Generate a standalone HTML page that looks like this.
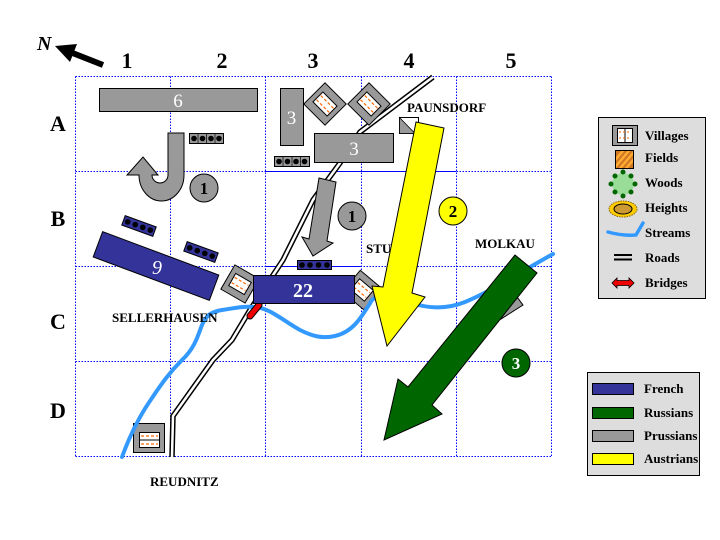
<!DOCTYPE html>
<html><head><meta charset="utf-8"><style>
html,body{margin:0;padding:0;background:#fff;}
svg{display:block;}
text{font-family:"Liberation Serif",serif;}
</style></head><body>
<svg width="720" height="540" viewBox="0 0 720 540" xmlns="http://www.w3.org/2000/svg">
<defs>
<clipPath id="fc"><rect x="615" y="150" width="18" height="18"/></clipPath>
</defs>
<rect width="720" height="540" fill="#fff"/>

<!-- grid -->
<g stroke="#0000ff" stroke-width="1" stroke-dasharray="1.5,1.5" fill="none">
<line x1="75.5" y1="76.5" x2="75.5" y2="457"/>
<line x1="170.5" y1="76.5" x2="170.5" y2="457"/>
<line x1="265.5" y1="76.5" x2="265.5" y2="457"/>
<line x1="361.5" y1="76.5" x2="361.5" y2="457"/>
<line x1="456.5" y1="76.5" x2="456.5" y2="457"/>
<line x1="551.5" y1="76.5" x2="551.5" y2="457"/>
<line x1="75.5" y1="76.5" x2="552" y2="76.5"/>
<line x1="75.5" y1="171.5" x2="552" y2="171.5"/>
<line x1="75.5" y1="266.5" x2="552" y2="266.5"/>
<line x1="75.5" y1="361.5" x2="552" y2="361.5"/>
<line x1="75.5" y1="456.5" x2="552" y2="456.5"/>
</g>
<g stroke="#0000ff" stroke-width="1">
<line x1="265" y1="171.5" x2="456" y2="171.5"/>
<line x1="265" y1="266.5" x2="361" y2="266.5"/>
</g>

<!-- labels -->
<g font-size="22" font-weight="bold" text-anchor="middle" fill="#000">
<text x="127" y="68">1</text>
<text x="222" y="68">2</text>
<text x="313" y="68">3</text>
<text x="409" y="68">4</text>
<text x="511" y="68">5</text>
<text x="58" y="131">A</text>
<text x="58" y="226">B</text>
<text x="58" y="329">C</text>
<text x="58" y="418">D</text>
</g>

<!-- North arrow -->
<text x="37" y="50" font-size="20" font-weight="bold" font-style="italic">N</text>
<line x1="70" y1="52" x2="103" y2="65" stroke="#000" stroke-width="6"/>
<polygon points="55,46 77,44 70,62" fill="#000"/>

<!-- road -->
<polyline points="433,77 360,132 340,163 313,200 283,260 250,310 232,340 213,360 173,416 172,457" fill="none" stroke="#000" stroke-width="5.5" stroke-linejoin="miter"/>
<polyline points="433,77 360,132 340,163 313,200 283,260 250,310 232,340 213,360 173,416 172,457" fill="none" stroke="#fff" stroke-width="2.5"/>

<!-- villages (diamonds) -->
<g transform="translate(325,104) rotate(45)">
<rect x="-15" y="-15" width="30" height="30" fill="#999" stroke="#000"/>
<rect x="-10" y="-7" width="20" height="14" fill="#fff" stroke="#000"/>
<line x1="-9" y1="-3" x2="9" y2="-3" stroke="#ff6600" stroke-width="1.2" stroke-dasharray="3,2"/>
<line x1="-9" y1="3" x2="9" y2="3" stroke="#ff6600" stroke-width="1.2" stroke-dasharray="3,2"/>
</g>
<g transform="translate(369,104) rotate(45)">
<rect x="-15" y="-15" width="30" height="30" fill="#999" stroke="#000"/>
<rect x="-10" y="-7" width="20" height="14" fill="#fff" stroke="#000"/>
<line x1="-9" y1="-3" x2="9" y2="-3" stroke="#ff6600" stroke-width="1.2" stroke-dasharray="3,2"/>
<line x1="-9" y1="3" x2="9" y2="3" stroke="#ff6600" stroke-width="1.2" stroke-dasharray="3,2"/>
</g>
<g transform="translate(240,284) rotate(30)">
<rect x="-14" y="-14" width="28" height="28" fill="#999" stroke="#000"/>
<rect x="-9" y="-7" width="18" height="14" fill="#fff" stroke="#000"/>
<line x1="-8" y1="-3" x2="8" y2="-3" stroke="#ff6600" stroke-width="1.2" stroke-dasharray="3,2"/>
<line x1="-8" y1="3" x2="8" y2="3" stroke="#ff6600" stroke-width="1.2" stroke-dasharray="3,2"/>
</g>
<g transform="translate(362,290) rotate(40)">
<rect x="-14" y="-14" width="28" height="28" fill="#999" stroke="#000"/>
<rect x="-9" y="-7" width="18" height="14" fill="#fff" stroke="#000"/>
<line x1="-8" y1="-3" x2="8" y2="-3" stroke="#ff6600" stroke-width="1.2" stroke-dasharray="3,2"/>
<line x1="-8" y1="3" x2="8" y2="3" stroke="#ff6600" stroke-width="1.2" stroke-dasharray="3,2"/>
</g>
<!-- Paunsdorf small village -->
<rect x="399.5" y="117.5" width="19" height="16" fill="#fff" stroke="#000"/>
<polygon points="399.5,117.5 399.5,133.5 415,133.5" fill="#999" stroke="#000" stroke-width="0.8"/>
<!-- Reudnitz village -->
<rect x="133.5" y="423.5" width="31" height="29" fill="#999" stroke="#000"/>
<rect x="139.5" y="432.5" width="20" height="15" fill="#fff" stroke="#000"/>
<line x1="139.5" y1="440" x2="159.5" y2="440" stroke="#000"/>
<line x1="141" y1="436" x2="158" y2="436" stroke="#ff6600" stroke-width="1.2" stroke-dasharray="3,2"/>
<line x1="141" y1="444" x2="158" y2="444" stroke="#ff6600" stroke-width="1.2" stroke-dasharray="3,2"/>

<!-- stream -->
<path d="M122,457 C130,435 140,415 152,398 C162,383 170,372 182,360 C195,348 198,335 202,325 C206,316 210,312 222,310 C235,308 245,306 255,307 C270,308 285,322 300,330 C312,336 322,339 335,336 C352,332 360,320 372,300 C380,292 395,298 410,303 C428,308 445,310 465,302 C490,292 515,275 553,254" fill="none" stroke="#3399ff" stroke-width="4" stroke-linecap="round"/>
<!-- bridge -->
<line x1="250" y1="316" x2="259" y2="305" stroke="#000" stroke-width="7" stroke-linecap="round"/>
<line x1="250" y1="316" x2="259" y2="305" stroke="#ee0000" stroke-width="5" stroke-linecap="round"/>

<!-- Prussians -->
<rect x="99.5" y="88.5" width="158" height="23" fill="#999" stroke="#000"/>
<text x="178" y="107" font-size="19" fill="#fff" text-anchor="middle">6</text>
<rect x="280.5" y="88.5" width="23" height="57" fill="#999" stroke="#000"/>
<text x="291.5" y="124" font-size="19" fill="#fff" text-anchor="middle">3</text>
<rect x="314.5" y="133.5" width="79" height="29" fill="#999" stroke="#000"/>
<text x="354" y="155" font-size="19" fill="#fff" text-anchor="middle">3</text>

<!-- batteries gray -->
<g>
<rect x="189.5" y="133.5" width="34" height="10" fill="#999" stroke="#000"/>
<g fill="#000"><circle cx="194" cy="138.5" r="2.8"/><circle cx="202.5" cy="138.5" r="2.8"/><circle cx="211" cy="138.5" r="2.8"/><circle cx="219" cy="138.5" r="2.8"/></g>
<g stroke="#000" stroke-width="0.7"><line x1="198" y1="133.5" x2="198" y2="143.5"/><line x1="206.5" y1="133.5" x2="206.5" y2="143.5"/><line x1="215" y1="133.5" x2="215" y2="143.5"/></g>
</g>
<g>
<rect x="274.5" y="156.5" width="35" height="10" fill="#999" stroke="#000"/>
<g fill="#000"><circle cx="279" cy="161.5" r="2.8"/><circle cx="287.5" cy="161.5" r="2.8"/><circle cx="296" cy="161.5" r="2.8"/><circle cx="304.5" cy="161.5" r="2.8"/></g>
<g stroke="#000" stroke-width="0.7"><line x1="283" y1="156.5" x2="283" y2="166.5"/><line x1="292" y1="156.5" x2="292" y2="166.5"/><line x1="300.5" y1="156.5" x2="300.5" y2="166.5"/></g>
</g>

<!-- U-turn arrow -->
<path d="M168,133 L184,133 L184,175 A22.5,26 0 0 1 139,175 L127,175 L143,157 L158,175 L152,175 A8,8 0 0 0 168,175 Z" fill="#999" stroke="#000" stroke-width="1"/>
<circle cx="204" cy="188" r="14" fill="#999" stroke="#000"/>
<text x="204" y="194" font-size="17" font-weight="bold" text-anchor="middle">1</text>

<!-- gray down arrow -->
<polygon points="319,178 336,182 327,241 333,243 313,256 302,237 309,239" fill="#999" stroke="#000"/>
<circle cx="352" cy="216" r="14" fill="#999" stroke="#000"/>
<text x="352" y="222" font-size="17" font-weight="bold" text-anchor="middle">1</text>

<!-- gray under green -->
<polygon points="498,295 517,297 523,305 501,319" fill="#999" stroke="#000"/>

<!-- French -->
<g transform="translate(156,266) rotate(20.5)">
<rect x="-62" y="-13.5" width="124" height="27" fill="#333399" stroke="#000"/>
</g>
<text x="157" y="274" font-size="20" font-style="italic" fill="#fff" text-anchor="middle">9</text>
<g transform="translate(139,226) rotate(20)">
<rect x="-16.5" y="-5" width="33" height="10" fill="#333399" stroke="#000"/>
<g fill="#000"><circle cx="-12" cy="0" r="2.8"/><circle cx="-4" cy="0" r="2.8"/><circle cx="4" cy="0" r="2.8"/><circle cx="12" cy="0" r="2.8"/></g>
</g>
<g transform="translate(201,252) rotate(20)">
<rect x="-16.5" y="-5" width="33" height="10" fill="#333399" stroke="#000"/>
<g fill="#000"><circle cx="-12" cy="0" r="2.8"/><circle cx="-4" cy="0" r="2.8"/><circle cx="4" cy="0" r="2.8"/><circle cx="12" cy="0" r="2.8"/></g>
</g>
<rect x="297.5" y="260.5" width="34" height="9" fill="#333399" stroke="#000"/>
<g fill="#000"><circle cx="302" cy="265" r="2.8"/><circle cx="310" cy="265" r="2.8"/><circle cx="318.5" cy="265" r="2.8"/><circle cx="327" cy="265" r="2.8"/></g>
<rect x="253.5" y="275.5" width="101" height="28" fill="#333399" stroke="#000"/>
<text x="303" y="297" font-size="20" font-weight="bold" fill="#fff" text-anchor="middle">22</text>

<!-- Austrian yellow arrow -->
<polygon points="416,122 444,128 412,293 425,297 387,346 372,286 383,287" fill="#ffff00" stroke="#000"/>
<circle cx="453" cy="211" r="14" fill="#ffff00" stroke="#000"/>
<text x="453" y="217" font-size="17" font-weight="bold" text-anchor="middle">2</text>

<!-- Russian green arrow -->
<polygon points="515,255 537,273 432,405 442,414 384,440 398,379 408,387" fill="#006600" stroke="#000"/>
<circle cx="516" cy="363" r="14" fill="#006600" stroke="#000"/>
<text x="516" y="369" font-size="17" font-weight="bold" fill="#fff" text-anchor="middle">3</text>

<!-- place names -->
<g font-size="13" font-weight="bold" fill="#000">
<text x="407" y="112">PAUNSDORF</text>
<text x="366" y="253">STU</text>
<text x="475" y="248">MOLKAU</text>
<text x="112" y="322">SELLERHAUSEN</text>
<text x="150" y="486">REUDNITZ</text>
</g>

<!-- Legend 1 -->
<rect x="598.5" y="117.5" width="107" height="181" fill="#dddddd" stroke="#000"/>
<rect x="612.5" y="125.5" width="25" height="20" fill="#999" stroke="#000"/>
<rect x="617.5" y="128.5" width="15" height="14" fill="#fff" stroke="#000"/>
<line x1="625" y1="128.5" x2="625" y2="142.5" stroke="#000"/>
<line x1="619" y1="132" x2="631" y2="132" stroke="#ff6600" stroke-dasharray="2,2"/>
<line x1="619" y1="138" x2="631" y2="138" stroke="#ff6600" stroke-dasharray="2,2"/>
<g clip-path="url(#fc)">
<rect x="615" y="150" width="18" height="18" fill="#cc7722"/>
<g stroke="#ffaa33" stroke-width="2.5">
<line x1="605" y1="172" x2="627" y2="146"/><line x1="611" y1="172" x2="633" y2="146"/><line x1="617" y1="172" x2="639" y2="146"/><line x1="623" y1="172" x2="645" y2="146"/>
</g>
</g>
<rect x="615.5" y="150.5" width="18" height="18" fill="none" stroke="#000"/>
<circle cx="623" cy="184" r="11" fill="#99dd99"/>
<g fill="#006600">
<circle cx="623" cy="172" r="2.5"/><circle cx="631" cy="176" r="2.5"/><circle cx="635" cy="184" r="2.5"/><circle cx="631" cy="192" r="2.5"/><circle cx="623" cy="196" r="2.5"/><circle cx="615" cy="192" r="2.5"/><circle cx="611" cy="184" r="2.5"/><circle cx="615" cy="176" r="2.5"/>
</g>
<ellipse cx="623" cy="209" rx="14" ry="8" fill="#ffcc00" stroke="#886600" stroke-dasharray="1.5,1"/>
<ellipse cx="623" cy="209" rx="9" ry="5" fill="#cc9933" stroke="#000"/>
<path d="M608,232 Q622,236 636,235 L643,223" fill="none" stroke="#3399ff" stroke-width="3.5" stroke-linecap="round"/>
<line x1="614" y1="255" x2="632" y2="255" stroke="#000" stroke-width="2"/>
<line x1="614" y1="259.5" x2="632" y2="259.5" stroke="#000" stroke-width="2"/>
<polygon points="612,283 617,278 617,280.5 629,280.5 629,278 634,283 629,288 629,285.5 617,285.5 617,288" fill="#ee0000" stroke="#000" stroke-width="0.8"/>
<g font-size="13" font-weight="bold" fill="#000">
<text x="645" y="140">Villages</text>
<text x="645" y="162">Fields</text>
<text x="645" y="187">Woods</text>
<text x="645" y="212">Heights</text>
<text x="645" y="237">Streams</text>
<text x="645" y="262">Roads</text>
<text x="645" y="287">Bridges</text>
</g>

<!-- Legend 2 -->
<rect x="587.5" y="372.5" width="112" height="103" fill="#dddddd" stroke="#000"/>
<rect x="592.5" y="383.5" width="41" height="11" fill="#333399" stroke="#000"/>
<rect x="592.5" y="407.5" width="41" height="11" fill="#006600" stroke="#000"/>
<rect x="592.5" y="430.5" width="41" height="11" fill="#999" stroke="#000"/>
<rect x="592.5" y="453.5" width="41" height="11" fill="#ffff00" stroke="#000"/>
<g font-size="13" font-weight="bold" fill="#000">
<text x="644" y="393">French</text>
<text x="644" y="417">Russians</text>
<text x="644" y="440">Prussians</text>
<text x="644" y="463">Austrians</text>
</g>
</svg>
</body></html>
